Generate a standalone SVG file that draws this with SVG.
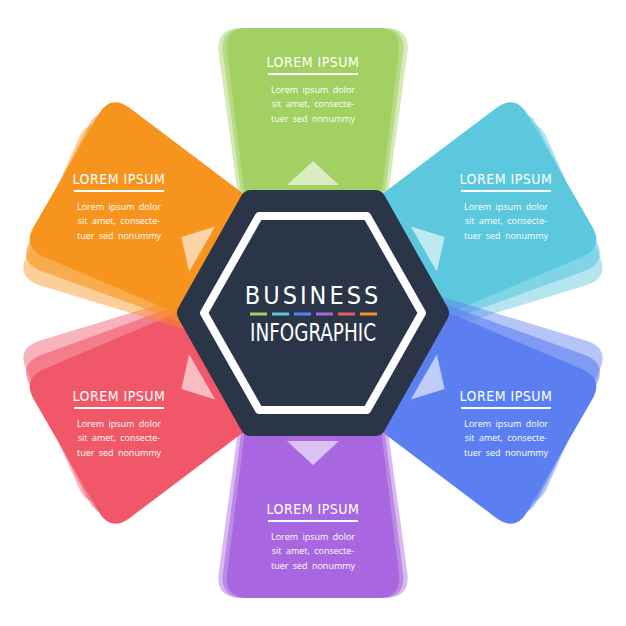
<svg xmlns="http://www.w3.org/2000/svg" width="626" height="626" viewBox="0 0 626 626">
<defs>
<style>
.t{font-family:"DejaVu Sans Condensed","DejaVu Sans",sans-serif;font-size:14px;fill:#fff;text-anchor:middle;letter-spacing:0.5px}
.b{font-family:"Open Sans",sans-serif;font-size:9px;fill:#fff;text-anchor:middle;word-spacing:2px}
.ul{stroke:#fff;stroke-width:2}
.arr{fill:#fff;fill-opacity:0.6;stroke:#fff;stroke-opacity:0.01;stroke-width:8;stroke-linejoin:round}
</style>
<path id="p" d="M -66,-100 L -86,-262 Q -88,-285 -65,-285 L 65,-285 Q 88,-285 86,-262 L 66,-100 Z"/>
<path id="a" d="M 0,-152 L -26,-128 L 26,-128 Z"/>
</defs>
<rect width="626" height="626" fill="#fff"/>
<g id="petal-green" transform="translate(313,313)" fill="#a2d062">
<use href="#p" transform="scale(1.1,1.0)" opacity="0.45"/><use href="#p" transform="scale(1.05,1.0)" opacity="0.6"/><use href="#p"/>
<use href="#a" class="arr"/>
</g>
<g id="petal-cyan" transform="translate(313,313) rotate(60)" fill="#5bc8dd">
<use href="#p" transform="rotate(6)" opacity="0.45"/><use href="#p" transform="rotate(3)" opacity="0.6"/><use href="#p"/>
<use href="#a" class="arr"/>
</g>
<g id="petal-blue" transform="translate(313,313) rotate(120)" fill="#5b7ff0">
<use href="#p" transform="rotate(-6)" opacity="0.45"/><use href="#p" transform="rotate(-3)" opacity="0.6"/><use href="#p"/>
<use href="#a" class="arr"/>
</g>
<g id="petal-purple" transform="translate(313,313) rotate(180)" fill="#a867e0">
<use href="#p" transform="scale(1.1,1.0)" opacity="0.45"/><use href="#p" transform="scale(1.05,1.0)" opacity="0.6"/><use href="#p"/>
<use href="#a" class="arr"/>
</g>
<g id="petal-red" transform="translate(313,313) rotate(240)" fill="#f0586a">
<use href="#p" transform="rotate(6)" opacity="0.45"/><use href="#p" transform="rotate(3)" opacity="0.6"/><use href="#p"/>
<use href="#a" class="arr"/>
</g>
<g id="petal-orange" transform="translate(313,313) rotate(300)" fill="#f7941d">
<use href="#p" transform="rotate(-6)" opacity="0.45"/><use href="#p" transform="rotate(-3)" opacity="0.6"/><use href="#p"/>
<use href="#a" class="arr"/>
</g>
<g id="texts">
<g transform="translate(313,0)"><text class="t" y="67">LOREM IPSUM</text><line class="ul" x1="-45" x2="45" y1="74" y2="74"/><text class="b" y="93">Lorem ipsum dolor</text><text class="b" y="107">sit amet, consecte-</text><text class="b" y="122">tuer sed nonummy</text></g>
<g transform="translate(119,117)"><text class="t" y="67">LOREM IPSUM</text><line class="ul" x1="-45" x2="45" y1="74" y2="74"/><text class="b" y="93">Lorem ipsum dolor</text><text class="b" y="107">sit amet, consecte-</text><text class="b" y="122">tuer sed nonummy</text></g>
<g transform="translate(506,117)"><text class="t" y="67">LOREM IPSUM</text><line class="ul" x1="-45" x2="45" y1="74" y2="74"/><text class="b" y="93">Lorem ipsum dolor</text><text class="b" y="107">sit amet, consecte-</text><text class="b" y="122">tuer sed nonummy</text></g>
<g transform="translate(119,334)"><text class="t" y="67">LOREM IPSUM</text><line class="ul" x1="-45" x2="45" y1="74" y2="74"/><text class="b" y="93">Lorem ipsum dolor</text><text class="b" y="107">sit amet, consecte-</text><text class="b" y="122">tuer sed nonummy</text></g>
<g transform="translate(506,334)"><text class="t" y="67">LOREM IPSUM</text><line class="ul" x1="-45" x2="45" y1="74" y2="74"/><text class="b" y="93">Lorem ipsum dolor</text><text class="b" y="107">sit amet, consecte-</text><text class="b" y="122">tuer sed nonummy</text></g>
<g transform="translate(313,447)"><text class="t" y="67">LOREM IPSUM</text><line class="ul" x1="-45" x2="45" y1="74" y2="74"/><text class="b" y="93">Lorem ipsum dolor</text><text class="b" y="107">sit amet, consecte-</text><text class="b" y="122">tuer sed nonummy</text></g>
</g>
<g id="center">
<polygon points="188,313 251,201 375,201 438,313 375,425 251,425" fill="#2a3548" stroke="#2a3548" stroke-width="22" stroke-linejoin="round"/>
<polygon points="204,313 259,216 367,216 422,313 367,410 259,410" fill="none" stroke="#fff" stroke-width="8" stroke-linejoin="round"/>
<text x="313" y="304" font-family="DejaVu Sans Condensed,sans-serif" font-size="25" fill="#fff" text-anchor="middle" letter-spacing="3">BUSINESS</text>
<g stroke-width="3"><line x1="250" x2="267" y1="314" y2="314" stroke="#a2d062"/><line x1="272" x2="289" y1="314" y2="314" stroke="#5bc8dd"/><line x1="294" x2="311" y1="314" y2="314" stroke="#5b7ff0"/><line x1="316" x2="333" y1="314" y2="314" stroke="#a867e0"/><line x1="338" x2="355" y1="314" y2="314" stroke="#f0586a"/><line x1="360" x2="377" y1="314" y2="314" stroke="#f7941d"/></g>
<text x="313" y="341" font-family="DejaVu Sans Condensed,sans-serif" font-size="24" fill="#fff" text-anchor="middle" textLength="126" lengthAdjust="spacingAndGlyphs">INFOGRAPHIC</text>
</g>
</svg>
